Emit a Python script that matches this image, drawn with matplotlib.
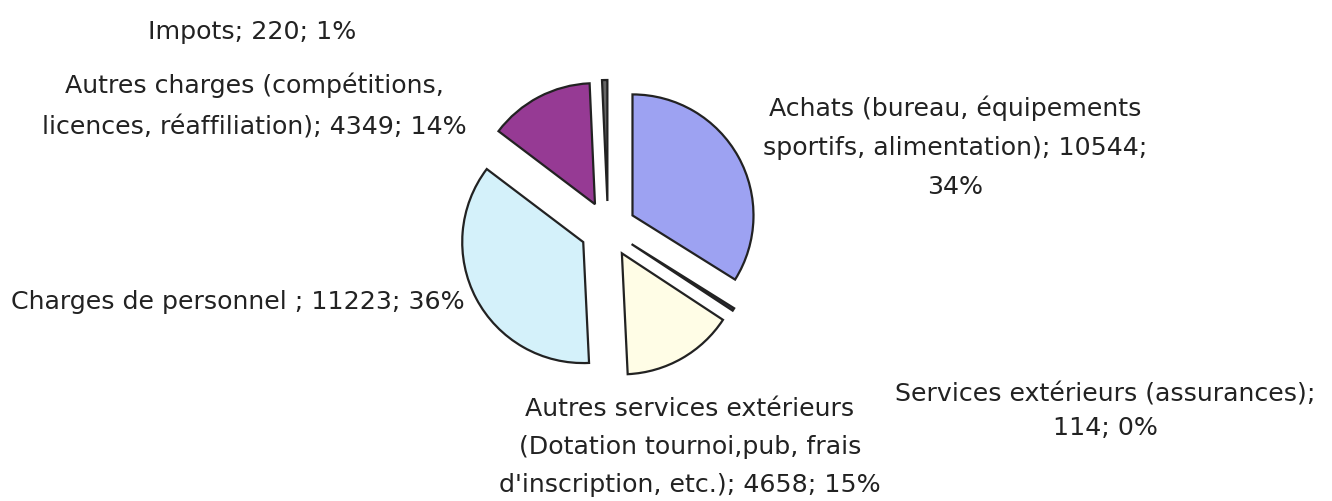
import matplotlib
matplotlib.use("Agg")
import matplotlib.pyplot as plt

categories = [
    "Achats (bureau, équipements\nsportifs, alimentation); 10544;\n34%",
    "Services extérieurs (assurances);\n114; 0%",
    "Autres services extérieurs\n(Dotation tournoi,pub, frais\nd'inscription, etc.); 4658; 15%",
    "Charges de personnel ; 11223; 36%",
    "Autres charges (compétitions,\nlicences, réaffiliation); 4349; 14%",
    "Impots; 220; 1%",
]
values = [10544, 114, 4658, 11223, 4349, 220]
colors = ["#9DA2F2", "#333355", "#FFFDE6", "#D4F1FA", "#963A94", "#666666"]

# label anchor positions in pixel coords (x, y from top) and line spacing
label_pos = [(955, 147), (1105, 411), (690, 447), (238, 302), (254, 106), (252, 32)]
label_ls = [1.78, 1.5, 1.72, 1.5, 1.88, 1.5]

W, H = 1332, 502
fig = plt.figure(figsize=(W / 100, H / 100), dpi=100)
ax = fig.add_axes([0, 0, 1, 1])

ax.pie(values, colors=colors, startangle=90, counterclock=False,
       center=(608, H - 230), radius=121, explode=[28] * len(values),
       wedgeprops=dict(edgecolor="#222222", linewidth=1.6), frame=True)
ax.set_xlim(0, W)
ax.set_ylim(0, H)
ax.set_aspect("equal")
ax.axis("off")

for lab, (x, y), ls in zip(categories, label_pos, label_ls):
    ax.text(x, H - y, lab, ha="center", va="center", fontsize=18.2,
            family="DejaVu Sans", color="#222222", linespacing=ls,
            multialignment="center")

fig.savefig("out.png", dpi=100, facecolor="white")
